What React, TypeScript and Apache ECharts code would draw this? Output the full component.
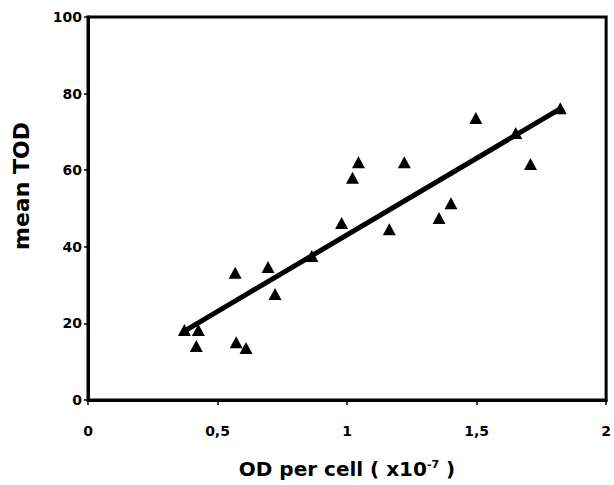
import React, { useEffect, useRef } from "react";
import * as echarts from "echarts";

const odPerCell = [0.372, 0.426, 0.418, 0.568, 0.572, 0.61, 0.695, 0.722, 0.864, 0.979, 1.021, 1.044, 1.163, 1.221, 1.355, 1.401, 1.497, 1.651, 1.708, 1.823];
const meanTOD = [18.3, 18.3, 14.1, 33.2, 15.1, 13.6, 34.7, 27.7, 37.6, 46.2, 58.0, 62.1, 44.6, 62.1, 47.5, 51.4, 73.6, 69.7, 61.6, 76.2];
const fitX = [0.372, 1.827];
const fitY = [18.0, 76.2];
const xTicks = [0, 0.5, 1, 1.5, 2];
const yTicks = [0, 20, 40, 60, 80, 100];

export default function App() {
  const ref = useRef<HTMLDivElement>(null);
  useEffect(() => {
    if (!ref.current) return;
    const chart = echarts.init(ref.current, null, { renderer: "svg" });
    const font = "'DejaVu Sans', 'Liberation Sans', Arial, sans-serif";
    chart.setOption({
      animation: false,
      backgroundColor: "#fff",
      grid: { left: 88, right: 5, top: 17, bottom: 85, show: true, borderColor: "#000", borderWidth: 3, backgroundColor: "transparent" },
      xAxis: {
        type: "value",
        min: xTicks[0],
        max: xTicks[xTicks.length - 1],
        interval: 0.5,
        splitLine: { show: false },
        axisLine: { show: true, onZero: false, lineStyle: { color: "#000", width: 3 } },
        axisTick: { show: true, length: 5, lineStyle: { color: "#000", width: 1.5 } },
        axisLabel: { margin: 24, color: "#000", fontSize: 14, fontWeight: "bold", fontFamily: font, formatter: (v: number) => String(v).replace(".", ",") },
      },
      yAxis: {
        type: "value",
        min: yTicks[0],
        max: yTicks[yTicks.length - 1],
        interval: 20,
        splitLine: { show: false },
        axisLine: { show: true, lineStyle: { color: "#000", width: 3 } },
        axisTick: { show: true, length: 4, lineStyle: { color: "#000", width: 1.5 } },
        axisLabel: { margin: 6, color: "#000", fontSize: 14, fontWeight: "bold", fontFamily: font },
      },
      graphic: [
        {
          type: "text",
          x: 21,
          y: 186,
          rotation: Math.PI / 2,
          style: { text: "mean TOD", fill: "#000", font: `bold 22px ${font}`, textAlign: "center", textVerticalAlign: "middle" },
        },
        {
          type: "text",
          x: 347,
          y: 469,
          style: {
            text: "{a|OD per cell ( x10}{s|-7}{a| )}",
            textAlign: "center",
            textVerticalAlign: "middle",
            rich: {
              a: { fill: "#000", fontSize: 20, fontWeight: "bold", fontFamily: font },
              s: { fill: "#000", fontSize: 11, fontWeight: "bold", fontFamily: font, verticalAlign: "top", padding: [0, 0, 10, 0] },
            },
          },
        },
      ],
      series: [
        {
          type: "line",
          data: fitX.map((x, i) => [x, fitY[i]]),
          symbol: "none",
          lineStyle: { color: "#000", width: 5 },
          z: 2,
        },
        {
          type: "scatter",
          data: odPerCell.map((x, i) => [x, meanTOD[i]]),
          symbol: "triangle",
          symbolSize: [13, 12],
          itemStyle: { color: "#000", opacity: 1 },
          z: 3,
        },
      ],
    });
    return () => chart.dispose();
  }, []);
  return <div ref={ref} style={{ position: "absolute", left: 0, top: 0, width: 614, height: 485 }} />;
}
